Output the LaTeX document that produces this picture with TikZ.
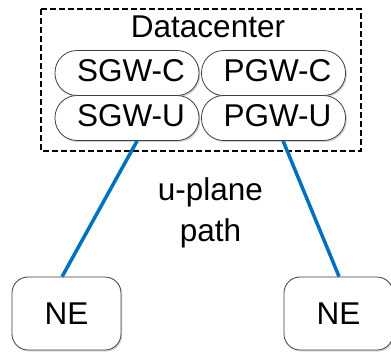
\documentclass[tikz,border=0pt]{standalone}
\usepackage{fontspec}
\setmainfont{Liberation Sans}
\usetikzlibrary{calc,shadows}
\definecolor{linkblue}{RGB}{0,112,192}
\tikzset{
  bigfont/.style={font=\fontsize{31.5}{41}\selectfont},
  pill/.style={draw=black!75, line width=0.8pt, fill=white, rounded corners=22pt,
    minimum width=144pt, minimum height=45pt, inner sep=0pt, bigfont,
    text height=22.5pt, text depth=5pt,
    drop shadow={shadow xshift=1.3pt, shadow yshift=-1.5pt, opacity=0.3, fill=black!60}},
  nebox/.style={draw=black!75, line width=0.8pt, fill=white, rounded corners=16pt,
    minimum width=109pt, minimum height=73pt, inner sep=0pt, bigfont,
    drop shadow={shadow xshift=1.3pt, shadow yshift=-1.5pt, opacity=0.25, fill=black!60}},
  dcframe/.style={draw=black, line width=1.2pt, dash pattern=on 6pt off 3pt},
  link/.style={draw=linkblue, line width=3.5pt},
  plain/.style={inner sep=0pt, bigfont, align=center}
}
\begin{document}
\begin{tikzpicture}[x=1pt,y=-1pt]
\clip (0,0) rectangle (391,351);
\fill[white] (0,0) rectangle (391,351);
\draw[dcframe] (41,9) rectangle (361,151);
\node[plain, anchor=base] (dctitle) at (208,37.3) {Datacenter};
\node[pill] (sgwc) at (127,73) {\hspace{8pt}SGW-C};
\node[pill] (pgwc) at (273.5,73) {\hspace{8pt}PGW-C};
\node[pill] (sgwu) at (127,118) {\hspace{8pt}SGW-U};
\node[pill] (pgwu) at (273.5,118) {\hspace{8pt}PGW-U};
\node[nebox] (ne1) at (66.5,313.5) {NE};
\node[nebox] (ne2) at (338.5,313.5) {NE};
\node[plain, anchor=north] (path) at (210.5,177) {u-plane\\path};
\draw[link] ($(sgwu.south west)!0.57!(sgwu.south east)$) -- ($(ne1.north west)!0.46!(ne1.north east)$);
\draw[link] ($(pgwu.south west)!0.566!(pgwu.south east)$) -- ($(ne2.north west)!0.505!(ne2.north east)$);
\end{tikzpicture}
\end{document}
